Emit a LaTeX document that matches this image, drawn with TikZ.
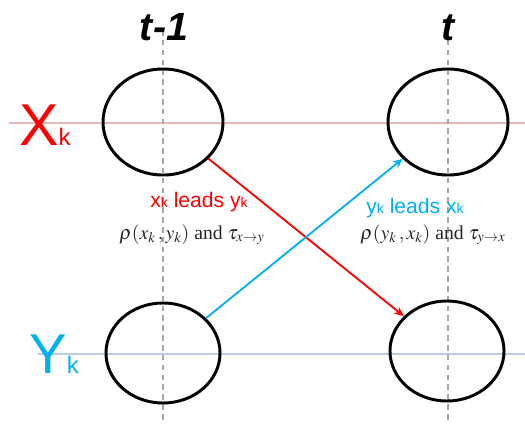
\documentclass[tikz,border=0pt]{standalone}
\usepackage{mathptmx}
\usepackage[no-math]{fontspec}
\setmainfont{Liberation Serif}
\setsansfont{Liberation Sans}
\usepackage{xcolor}
\usetikzlibrary{shapes.geometric,arrows.meta,positioning}
\definecolor{XR}{HTML}{FF0000}
\definecolor{YB}{HTML}{00B0F0}
\definecolor{XL}{HTML}{E6B9B8}
\definecolor{YL}{HTML}{B9CDE5}
\definecolor{GD}{HTML}{A6A6A6}
\newcommand{\subk}[1]{#1{\fontsize{10}{10}\selectfont k}}

\begin{document}
\begin{tikzpicture}[x=0.025cm, y=-0.025cm,
    state/.style={draw=black, line width=2.1pt, ellipse, inner sep=0pt},
    lead/.style={font=\sffamily\fontsize{15}{15}\selectfont, inner sep=0pt, anchor=base},
    corr/.style={font=\fontsize{14}{14}\selectfont, text=black!85, inner sep=0pt, anchor=base},
    link/.style={line width=1.3pt, -{Stealth[length=7pt,width=6pt]}}]
  \useasboundingbox (0,0) rectangle (525,423);
  % guide lines
  \draw[XL, line width=0.8pt] (9,123) -- (525,123);
  \draw[YL, line width=0.8pt] (38,354) -- (525,354);
  \draw[GD, line width=0.8pt, dash pattern=on 4pt off 3pt] (163,30) -- (163,423);
  \draw[GD, line width=0.8pt, dash pattern=on 4pt off 3pt] (448,30) -- (448,423);

  % time steps
  \node[font=\sffamily\bfseries\itshape\fontsize{28}{28}\selectfont, inner sep=0pt] (tprev) at (164,27) {t-1};
  \node[font=\sffamily\bfseries\itshape\fontsize{28}{28}\selectfont, inner sep=0pt] (tnow) at (448,28) {t};

  % series names
  \node[anchor=base west, inner sep=0pt, text=XR, font=\sffamily] (xname) at (19,145)
    {\fontsize{42}{42}\selectfont X\fontsize{17}{17}\selectfont k};
  \node[anchor=base west, inner sep=0pt, text=YB, font=\sffamily] (yname) at (29,373)
    {\fontsize{40}{40}\selectfont Y\fontsize{17}{17}\selectfont k};

  % states
  \node[state, minimum width=3.0cm, minimum height=2.65cm] (xprev) at (163,122) {};
  \node[state, minimum width=3.0cm, minimum height=2.65cm] (xnow) at (448,122) {};
  \node[state, minimum width=2.85cm, minimum height=2.5cm] (yprev) at (163,353) {};
  \node[state, minimum width=2.85cm, minimum height=2.5cm] (ynow) at (447,351) {};

  % lead links
  \draw[link, XR] (xprev) -- (ynow);
  \draw[link, YB] (yprev) -- (xnow);

  \node[lead, text=XR] (xlead) at (199,207) {\subk{x} leads \subk{y}};
  \node[lead, text=YB] (ylead) at (415,213) {\subk{y} leads \subk{x}};
  \node[corr] (xcorr) at (192,239) {$\rho(x_k\,, y_k)$ and $\tau_{x\rightarrow y}$};
  \node[corr] (ycorr) at (433,239) {$\rho(y_k\,, x_k)$ and $\tau_{y\rightarrow x}$};
\end{tikzpicture}
\end{document}
